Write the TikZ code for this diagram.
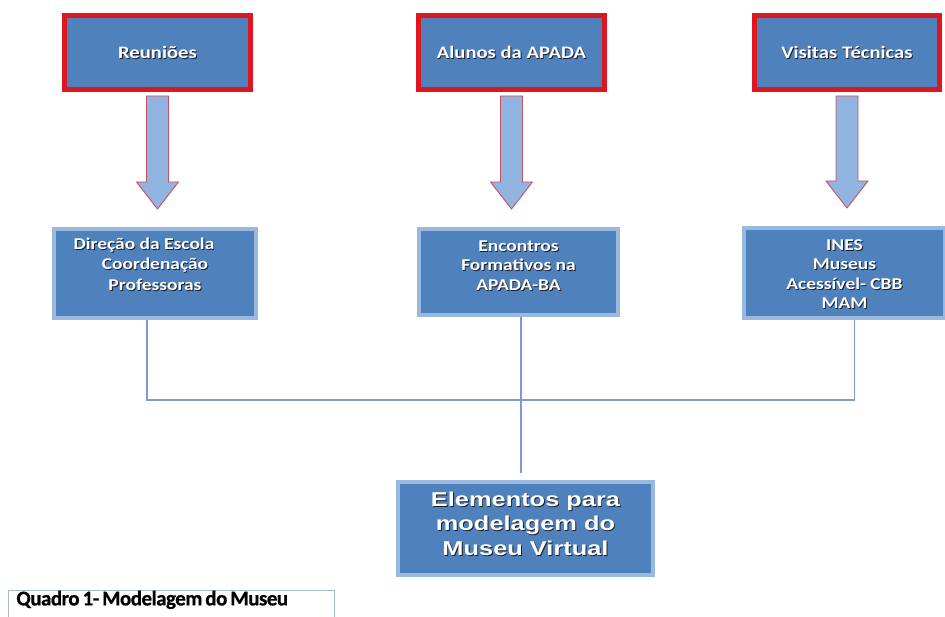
\documentclass[tikz,border=0pt]{standalone}
\usepackage{fontspec}
\setmainfont{Carlito}
\newfontfamily\boxfont[FakeStretch=1.18]{Carlito}
\newfontfamily\elemfont[FakeStretch=1.27]{Liberation Sans}
\newfontfamily\capfont[LetterSpace=-2.5, FakeBold=0.6]{Carlito}
\usetikzlibrary{shadows,calc}
\definecolor{boxblue}{RGB}{79,129,189}
\definecolor{topred}{RGB}{222,22,32}
\definecolor{midedge}{RGB}{155,185,222}
\definecolor{arrfill}{RGB}{146,180,224}
\definecolor{arredge}{RGB}{200,80,95}
\definecolor{linkblue}{RGB}{125,155,205}
\definecolor{capedge}{RGB}{165,185,205}
\definecolor{txtshadow}{RGB}{30,30,40}
\newcommand\shtext[1]{\rlap{\hspace{0.9pt}\raisebox{-0.9pt}{\color{txtshadow}#1}}#1}

\begin{document}
\begin{tikzpicture}[x=1pt, y=-1pt,
  topbox/.style={draw=topred, line width=5pt, fill=boxblue, minimum width=186pt, minimum height=74pt,
    drop shadow={shadow xshift=2pt, shadow yshift=-2pt, opacity=0.35},
    text=white, font=\boxfont\bfseries\fontsize{17.5}{20}\selectfont},
  midbox/.style={draw=midedge, line width=4pt, fill=boxblue,
    drop shadow={shadow xshift=2pt, shadow yshift=-2pt, opacity=0.35}},
  midtext/.style={anchor=north, yshift=-8pt, align=center, text=white,
    font=\boxfont\bfseries\fontsize{16.5}{19.5}\selectfont},
  blockarrow/.style={draw=arredge, line width=0.9pt, fill=arrfill},
  link/.style={draw=linkblue, line width=1.2pt}]
\useasboundingbox (0,0) rectangle (945,617);

% Top boxes
\node[topbox] (reun) at (157.5,52.5) {\shtext{Reuniões}};
\node[topbox] (alun) at (511.5,52.5) {\shtext{Alunos da APADA}};
\node[topbox, minimum width=185pt] (visi) at (847,52.5) {\shtext{Visitas Técnicas}};

% Middle boxes
\node[midbox, minimum width=202pt, minimum height=89pt,
  label={[midtext, yshift=1pt]north:\shtext{Direção da Escola}\hspace*{22pt}\\[1pt]\shtext{Coordenação}\\[1pt]\shtext{Professoras}}]
  (dire) at (155,273.5) {};
\node[midbox, minimum width=199pt, minimum height=86pt,
  label={[midtext, yshift=-2pt]north:\shtext{Encontros}\\\shtext{Formativos na}\\\shtext{APADA-BA}}]
  (enco) at (518.5,272) {};
\node[midbox, minimum width=201pt, minimum height=90pt,
  label={[midtext, yshift=-2pt]north:\shtext{INES}\\\shtext{Museus}\\\shtext{Acessível- CBB}\\\shtext{MAM}}]
  (ines) at (844.5,273) {};

% Result box
\node[midbox, minimum width=255pt, minimum height=93pt, align=center, text=white,
  font=\elemfont\bfseries\fontsize{20}{24.5}\selectfont]
  (elem) at (525.5,528.5) {\shtext{Elementos para}\\\shtext{modelagem do}\\\shtext{Museu Virtual}\\[-14.5pt]\mbox{}};

% Block arrows
\foreach \a/\b in {reun/dire, alun/enco, visi/ines}
  \draw[blockarrow] let \p1=(\a.south), \p2=(\b.north) in
    (\x1-11pt,\y1-4pt) -- (\x1+11pt,\y1-4pt) -- (\x1+11pt,\y2+45pt) -- (\x1+21pt,\y2+45pt)
    -- (\x1,\y2+18pt) -- (\x1-21pt,\y2+45pt) -- (\x1-11pt,\y2+45pt) -- cycle;

% Connectors
\coordinate (hub) at (521,400);
\draw[link] ([xshift=-8pt]dire.south) |- (hub) -| ([xshift=10pt]ines.south);
\draw[link] (hub |- enco.south) -- ([yshift=7pt]hub |- elem.north);

% Caption
\node[draw=capedge, line width=0.8pt, anchor=north west, text width=310pt, align=left,
  inner xsep=8pt, inner ysep=3pt, text height=12pt, text depth=25pt,
  font=\capfont\bfseries\fontsize{21}{24}\selectfont]
  (capt) at (8,590) {\spaceskip=3pt\relax Quadro 1- Modelagem do Museu};
\end{tikzpicture}
\end{document}
